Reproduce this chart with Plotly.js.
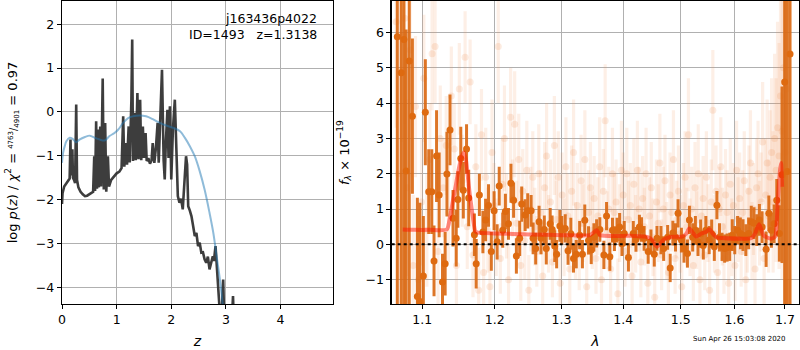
<!DOCTYPE html>
<html><head><meta charset="utf-8">
<script src="https://cdn.plot.ly/plotly-3.0.1.min.js"></script>
<style>body{margin:0;background:#fff}</style>
</head><body><div id="chart" style="width:800px;height:350px"></div>
<script>
// ---- left panel: p(z) ----
const zGrid = [0.00,0.01,0.04,0.08,0.12,0.14,0.155,0.165,0.19,0.20,0.22,0.24,0.26,0.275,0.30,0.34,0.38,0.42,0.46,0.50,0.54,0.57,0.59,0.605,0.625,0.64,0.66,0.675,0.70,0.715,0.745,0.765,0.79,0.81,0.84,0.86,0.90,0.95,1.00,1.05,1.09,1.12,1.14,1.17,1.19,1.22,1.24,1.27,1.285,1.30,1.33,1.35,1.38,1.40,1.43,1.45,1.48,1.50,1.53,1.55,1.58,1.61,1.64,1.66,1.69,1.72,1.75,1.77,1.80,1.83,1.86,1.88,1.90,1.93,1.95,1.975,2.00,2.03,2.065,2.09,2.12,2.15,2.18,2.21,2.24,2.27,2.29,2.31,2.34,2.37,2.40,2.43,2.46,2.49,2.52,2.55,2.58,2.61,2.64,2.67,2.70,2.73,2.76,2.78,2.81,2.83,2.86,2.89,2.92,2.95,2.97,3.00,3.10,3.13,3.15,3.30];
const logPz = [-2.10,-1.85,-1.70,-1.62,-1.57,-1.52,-0.63,-1.45,-0.85,-1.50,-1.55,-1.62,0.17,-1.55,-1.72,-1.82,-1.88,-1.92,-1.91,-1.88,-1.85,-1.82,-1.01,-1.80,-0.21,-1.75,-0.40,-1.72,-0.33,-1.70,0.76,-1.77,-0.25,-1.82,-1.01,-1.70,-1.55,-1.47,-1.40,-1.36,-1.28,-0.10,-1.25,-0.71,-1.20,-0.33,-1.15,0.28,1.65,-1.12,-0.02,-1.10,0.43,-1.08,0.28,-1.10,-0.33,-1.05,-0.48,-1.12,-1.05,-1.18,-1.10,-0.71,-1.16,-0.80,-0.25,-1.16,0.05,0.96,-1.10,-1.54,-0.70,0.05,-1.05,0.13,-1.54,-0.40,0.28,-0.60,-1.92,-2.07,-1.98,-2.22,-1.69,-1.01,-1.20,-2.15,-2.25,-2.38,-2.60,-2.83,-2.76,-3.06,-2.98,-3.21,-3.20,-3.36,-3.44,-3.30,-3.59,-3.42,-3.29,-3.40,-3.06,-3.45,-3.90,-4.60,-4.70,-3.82,-4.80,-5.20,-5.00,-4.20,-5.00,-6.00];
const zPrior = [0.00,0.02,0.05,0.08,0.14,0.20,0.26,0.32,0.42,0.51,0.60,0.69,0.78,0.87,0.96,1.03,1.12,1.21,1.30,1.42,1.54,1.67,1.79,1.91,2.03,2.16,2.25,2.34,2.43,2.52,2.61,2.70,2.77,2.83,2.89,2.94,2.97];
const logPrior = [-1.16,-0.93,-0.78,-0.67,-0.59,-0.62,-0.69,-0.63,-0.57,-0.54,-0.59,-0.63,-0.65,-0.55,-0.48,-0.40,-0.25,-0.14,-0.10,-0.08,-0.10,-0.17,-0.25,-0.31,-0.36,-0.44,-0.59,-0.78,-1.01,-1.35,-1.77,-2.30,-2.76,-3.29,-3.82,-4.37,-4.70];

// ---- right panel: spectrum ----
const darkLam = [1.0675,1.0725,1.0760,1.0788,1.0829,1.0870,1.0935,1.0968,1.1014,1.1040,1.1085,1.1126,1.1156,1.1190,1.1225,1.1270,1.1306,1.1330,1.1372,1.1413,1.1457,1.1480,1.1520,1.1555,1.1600,1.1630,1.1710,1.1735,1.1780,
1.1830,1.1868,1.1910,1.1950,1.1990,
1.2034,1.2064,1.2115,1.2154,1.2199,1.2235,1.2274,1.2315,1.2364,1.2394,1.2445,1.2484,1.2535,1.2565,1.2604,1.2655,1.2685,1.2735,1.2765,1.2825,1.2855,1.2895,1.2925,1.2975,1.3005,1.3059,1.3103,1.3147,1.3189,1.3233,1.3287,1.3331,1.3369,1.3429,1.3473,
1.3516,1.3560,1.3613,1.3679,1.3723,1.3777,1.3821,1.3853,1.3897,1.3940,1.3979,1.4018,1.4088,1.4170,1.4216,1.4275,1.4311,1.4356,1.4426,1.4474,1.4532,1.4579,1.4649,1.4696,1.4767,1.4812,1.4860,1.4907,1.4953,1.5013,1.5060,1.5122,1.5158,1.5218,
1.5267,1.5315,1.5364,1.5413,1.5460,1.5522,1.5569,1.5618,1.5667,1.5715,1.5764,1.5813,1.5860,1.5909,1.5958,1.6006,1.6060,1.6114,1.6166,1.6220,1.6274,1.6326,1.6380,1.6434,1.6486,1.6540,1.6620,1.6674,1.6726,1.6780,1.6834,1.6886,1.6940,1.6994,1.7048,1.7104];
const darkFlux = [5.88,4.86,5.80,2.08,5.19,3.63,-1.48,-1.62,-0.90,3.74,1.49,1.49,-0.47,2.50,1.40,-1.07,-0.55,1.99,3.24,0.74,0.17,1.27,2.43,1.53,2.70,1.31,0.27,-0.55,1.40,
0.35,0.69,1.10,-0.20,0.95,
0.07,1.65,0.40,0.93,0.58,1.73,1.25,-0.33,0.17,1.14,0.83,0.95,0.95,0.17,-0.12,0.64,0.17,0.42,-0.12,0.58,0.42,-0.05,-0.28,0.52,0.40,0.45,-0.18,0.30,-0.40,-0.28,0.26,-0.28,0.68,0.11,-0.16,
0.20,0.31,0.42,-0.30,0.80,-0.35,0.40,0.16,0.40,0.49,0.02,0.31,-0.37,0.31,0.14,0.49,0.42,0.17,-0.20,0.07,-0.28,0.17,0.12,-0.12,0.20,-0.67,0.32,0.20,0.88,0.12,-0.12,-0.26,0.69,0.20,
0.40,0.07,0.30,-0.03,0.40,0.12,0.30,-0.07,1.11,0.20,-0.07,-0.12,-0.09,-0.07,0.26,0.12,0.40,0.31,0.26,0.12,0.31,0.64,0.60,0.40,0.69,0.49,-0.14,0.88,0.40,0.58,1.25,0.31,1.97,4.60,2.06,5.39];
const darkErr = [10,10,10,4,10,2.2,2.8,2.8,1.7,1.5,1.2,1.2,1.0,1.3,1.2,0.8,0.9,1.2,1.0,0.8,0.8,0.8,0.9,0.8,0.7,0.8,0.6,0.7,0.6,
0.6,0.6,0.6,0.55,0.55,
0.5,0.55,0.5,0.5,0.45,0.55,0.5,0.5,0.5,0.5,0.45,0.5,0.45,0.45,0.45,0.45,0.45,0.4,0.45,0.45,0.4,0.45,0.4,0.45,0.4,0.4,0.4,0.45,0.4,0.4,0.4,0.4,0.45,0.4,0.4,
0.4,0.4,0.35,0.4,0.4,0.4,0.35,0.35,0.35,0.4,0.35,0.35,0.4,0.35,0.35,0.35,0.35,0.35,0.35,0.35,0.35,0.35,0.4,0.35,0.35,0.4,0.35,0.4,0.4,0.35,0.4,0.4,0.4,0.4,
0.4,0.4,0.4,0.4,0.4,0.4,0.4,0.4,0.4,0.4,0.4,0.4,0.4,0.4,0.45,0.4,0.4,0.45,0.45,0.45,0.45,0.45,0.45,0.45,0.45,0.45,0.5,0.5,0.5,0.55,0.6,0.8,2.5,10,10,10];

const faintLam = [1.066,1.069,1.073,1.077,1.080,1.084,1.088,1.091,1.095,1.099,1.102,1.106,1.110,1.113,1.117,1.121,1.124,1.128,1.132,1.135,1.139,1.143,1.146,1.150,1.154,1.158,1.161,1.165,1.169,1.173,1.177,
1.181,1.184,1.187,1.190,1.193,1.196,1.199,1.202,1.205,1.208,1.211,1.214,1.217,1.220,1.223,1.226,1.229,1.232,1.235,1.238,1.241,1.244,1.247,1.250,1.253,1.256,1.259,1.262,1.265,1.268,1.271,1.274,1.277,1.280,1.283,1.286,1.289,1.292,1.295,1.298,1.301,1.304,1.307,1.310,1.313,1.316,1.319,1.322,1.325,1.328,1.331,1.334,1.337,1.340,1.343,1.346,1.349,
1.352,1.355,1.358,1.361,1.364,1.367,1.370,1.373,1.376,1.379,1.382,1.385,1.388,1.391,1.394,1.397,1.400,1.403,1.406,1.409,1.412,1.415,1.418,1.421,1.424,1.427,1.430,1.433,1.436,1.439,1.442,1.445,1.448,1.451,1.454,1.457,1.460,1.463,1.466,1.469,1.472,1.475,1.478,1.481,1.484,1.487,1.490,1.493,1.496,1.499,1.502,1.505,1.508,1.511,1.514,1.517,
1.520,1.523,1.526,1.529,1.532,1.535,1.538,1.541,1.544,1.547,1.550,1.553,1.556,1.559,1.562,1.565,1.568,1.571,1.574,1.577,1.580,1.583,1.586,1.589,1.592,1.595,1.598,1.601,1.604,1.607,1.610,1.613,1.616,1.619,1.622,1.625,1.628,1.631,1.634,1.637,1.640,1.643,1.646,1.649,1.652,1.655,1.658,1.661,1.664,1.667,1.670,1.673,1.676,1.679,1.682,1.685,1.688,1.691,1.694,1.697,1.700,1.703];
const faintFlux = [6.3,2.0,5.9,6.4,1.6,5.5,-0.6,3.9,-1.0,1.2,4.7,0.4,2.4,5.4,5.6,-0.2,3.0,1.6,2.8,0.9,4.2,2.7,-0.6,4.4,1.8,5.3,0.5,4.6,-0.3,2.2,-1.3,
3.1,-0.8,1.9,0.4,-1.2,2.6,1.1,0.2,5.6,-0.4,1.7,3.0,0.8,-1.0,3.6,1.3,3.4,0.6,2.4,-0.6,1.5,0.1,2.1,-1.3,1.0,1.9,0.5,-0.2,2.0,0.9,-0.9,1.6,2.5,0.3,1.2,-0.5,2.8,0.7,1.9,-1.1,1.4,0.2,2.2,0.8,-0.7,1.5,2.6,0.1,1.1,-0.3,1.8,0.6,2.4,-1.2,0.9,1.6,0.4,
1.3,-0.4,0.8,2.2,-1.0,1.5,3.5,0.4,1.0,-0.7,2.0,0.9,1.2,-1.4,0.6,2.1,1.4,-0.2,2.0,0.7,1.1,-0.9,1.7,0.3,2.1,1.0,-0.5,1.3,0.5,2.0,-1.1,0.8,1.6,0.2,-1.5,1.2,0.6,2.3,-0.3,1.0,1.8,0.1,-0.8,1.4,0.9,2.4,-0.4,0.7,1.5,0.3,-1.2,1.1,1.9,0.5,3.1,0.2,
1.0,-0.6,1.6,0.4,2.0,-1.0,0.8,1.3,-0.3,1.9,0.6,-1.3,1.2,3.8,0.3,1.5,-0.8,1.0,2.2,0.5,-0.4,1.4,0.9,-1.1,1.7,0.2,1.1,-0.6,2.1,0.7,1.3,-0.2,0.9,1.8,-1.0,0.4,1.5,2.3,0.1,1.0,-0.7,1.6,2.0,0.6,1.2,2.9,-0.4,1.4,2.3,0.8,1.9,2.6,1.2,3.0,2.1,3.3,2.5,4.2,3.2,5.0,2.6,4.4];
const faintErr = [3.0,3.0,3.0,3.0,2.5,2.5,2.0,2.0,1.8,1.8,1.8,1.6,1.6,1.6,1.6,1.5,1.5,1.4,1.4,1.4,1.4,1.3,1.3,1.3,1.3,1.3,1.2,1.2,1.2,1.2,1.2,
1.3,1.1,1.4,1.2,1.0,1.5,1.2,1.1,1.6,1.0,1.3,1.5,1.2,1.0,1.4,1.1,1.5,1.2,1.3,1.0,1.2,1.1,1.4,1.0,1.2,1.3,1.1,1.0,1.4,1.2,1.0,1.3,1.5,1.1,1.2,1.0,1.4,1.1,1.3,1.0,1.2,1.1,1.4,1.2,1.0,1.3,1.5,1.1,1.2,1.0,1.3,1.1,1.4,1.0,1.2,1.3,1.1,
1.2,1.0,1.1,1.4,1.0,1.2,1.6,1.1,1.2,1.0,1.3,1.1,1.2,1.0,1.1,1.4,1.2,1.0,1.3,1.1,1.2,1.0,1.3,1.1,1.4,1.2,1.0,1.2,1.1,1.3,1.0,1.1,1.3,1.1,1.0,1.2,1.1,1.4,1.0,1.2,1.3,1.1,1.0,1.2,1.1,1.4,1.0,1.1,1.3,1.1,1.0,1.2,1.3,1.1,1.6,1.1,
1.2,1.0,1.3,1.1,1.4,1.0,1.2,1.2,1.0,1.3,1.1,1.0,1.2,1.7,1.1,1.3,1.0,1.2,1.4,1.1,1.0,1.3,1.2,1.0,1.3,1.1,1.2,1.0,1.4,1.2,1.3,1.0,1.2,1.4,1.0,1.2,1.3,1.5,1.1,1.3,1.1,1.4,1.5,1.2,1.4,1.7,1.3,1.6,1.8,1.6,1.9,2.1,2.0,2.4,2.6,3.0,3.2,3.8,4.2,5.0,5.5,6.0];

const modelLam = [1.0745,1.090,1.110,1.1328,1.137,1.1413,1.145,1.148,1.1529,1.1565,1.1594,1.164,1.169,1.1725,1.176,1.20,1.2521,1.3028,1.345,1.350,1.3561,1.362,1.4113,1.4375,1.448,1.4578,1.4698,1.4816,1.5029,1.5100,1.5155,1.521,1.528,1.537,1.546,1.5527,1.559,1.566,1.576,1.6333,1.640,1.648,1.6572,1.6715,1.6800,1.685,1.6897,1.6920,1.6942];
const modelFlux = [0.42,0.41,0.41,0.42,0.75,1.25,1.65,2.0,2.47,2.6,2.35,1.5,0.75,0.36,0.33,0.31,0.28,0.26,0.26,0.32,0.40,0.26,0.24,0.22,0.15,-0.07,0.13,0.21,0.22,0.30,0.45,0.35,0.22,0.30,0.35,0.43,0.30,0.20,0.18,0.18,0.30,0.57,0.25,0.16,0.22,1.13,2.06,2.3,1.63];

const leftXTicks = [0,1,2,3,4];
const leftYTicks = [-4,-3,-2,-1,0,1,2];
const rightXTicks = [1.1,1.2,1.3,1.4,1.5,1.6,1.7];
const rightXTickText = ['1.1','1.2','1.3','1.4','1.5','1.6','1.7'];
const rightYTicks = [-1,0,1,2,3,4,5,6];

const FONT = 'DejaVu Sans, sans-serif';
const traces = [
  {x: zGrid, y: logPz, xaxis:'x', yaxis:'y', mode:'lines', line:{color:'rgba(45,45,45,0.92)', width:2.6}, hoverinfo:'skip'},
  {x: zPrior, y: logPrior, xaxis:'x', yaxis:'y', mode:'lines', line:{color:'rgba(31,119,180,0.5)', width:2, shape:'spline'}, hoverinfo:'skip'},
  {x: faintLam, y: faintFlux, xaxis:'x2', yaxis:'y2', mode:'markers',
   marker:{color:'rgba(235,130,60,0.16)', size:7},
   error_y:{type:'data', array: faintErr, visible:true, width:0, thickness:3.2, color:'rgba(240,150,90,0.15)'}, hoverinfo:'skip'},
  {x: darkLam, y: darkFlux, xaxis:'x2', yaxis:'y2', mode:'markers',
   marker:{color:'#de6a10', size:7},
   error_y:{type:'data', array: darkErr, visible:true, width:0, thickness:3, color:'rgba(218,105,20,0.92)'}, hoverinfo:'skip'},
  {x: modelLam, y: modelFlux, xaxis:'x2', yaxis:'y2', mode:'lines', line:{color:'rgba(255,20,0,0.5)', width:4, shape:'spline', smoothing:0.6}, hoverinfo:'skip'}
];

const axBase = {showline:true, mirror:true, linecolor:'#000', linewidth:1.2, ticks:'outside', ticklen:4, tickwidth:1, tickcolor:'#000',
  showgrid:true, gridcolor:'#b0b0b0', gridwidth:1, zeroline:false, tickfont:{family:FONT, size:12.5, color:'#000'}};

const layout = {
  width:800, height:350, margin:{l:0,r:0,t:0,b:0}, paper_bgcolor:'#fff', plot_bgcolor:'#fff', showlegend:false,
  font:{family:FONT, color:'#000'},
  xaxis: Object.assign({}, axBase, {domain:[0.0775,0.41625], range:[0,4.96], tickvals:leftXTicks, anchor:'y',
    title:{text:'<i>z</i>', font:{family:FONT, size:14}, standoff:10}}),
  yaxis: Object.assign({}, axBase, {domain:[0.1314,0.9971], range:[-4.38,2.53], tickvals:leftYTicks, anchor:'x',
    title:{text:'log <i>p</i>(<i>z</i>) / <i>χ</i><sup>2</sup> = <span style="font-size:10px"><sup>4763</sup>/<sub>4901</sub></span> = 0.97', font:{family:FONT, size:13}, standoff:15}}),
  xaxis2: Object.assign({}, axBase, {domain:[0.4896,0.99875], type:'log', range:[Math.log10(1.0603), Math.log10(1.7289)],
    tickvals:rightXTicks, ticktext:rightXTickText, anchor:'y2',
    title:{text:'<i>λ</i>', font:{family:FONT, size:14}, standoff:10}}),
  yaxis2: Object.assign({}, axBase, {domain:[0.1314,0.9971], range:[-1.69,6.89], tickvals:rightYTicks, anchor:'x2',
    title:{text:'<i>f</i><sub><i>λ</i></sub> × 10<sup>−19</sup>', font:{family:FONT, size:13}, standoff:13}}),
  shapes:[{type:'line', xref:'x2 domain', yref:'y2', x0:0, x1:1, y0:0, y1:0, line:{color:'#000', width:2, dash:'dot'}, layer:'above'}],
  annotations:[
    {text:'j163436p4022', xref:'paper', yref:'paper', x:319/800, y:1-19/350, xanchor:'right', yanchor:'middle', showarrow:false, font:{family:FONT, size:12.5, color:'#000'}},
    {text:'ID=1493\u00a0\u00a0\u00a0z=1.3138', xref:'paper', yref:'paper', x:319/800, y:1-35/350, xanchor:'right', yanchor:'middle', showarrow:false, font:{family:FONT, size:12.5, color:'#000'}},
    {text:'Sun Apr 26 15:03:08 2020', xref:'paper', yref:'paper', x:788/800, y:1-339/350, xanchor:'right', yanchor:'middle', showarrow:false, font:{family:FONT, size:7, color:'#000'}}
  ]
};
Plotly.newPlot('chart', traces, layout, {staticPlot:true, displayModeBar:false});
</script>
</body></html>
